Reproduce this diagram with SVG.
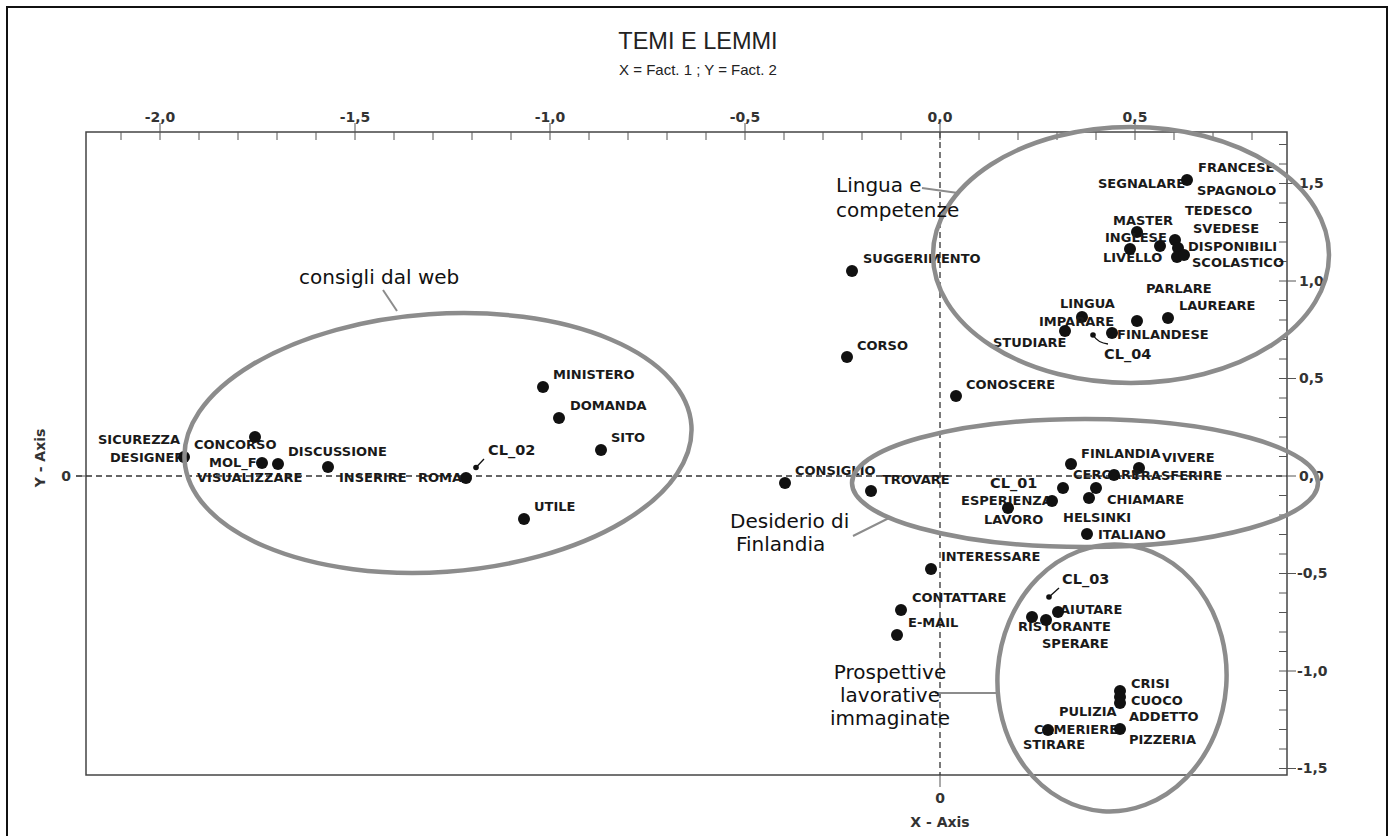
<svg xmlns="http://www.w3.org/2000/svg" width="1394" height="836" viewBox="0 0 1394 836">
<style>
.lbl{font-family:"DejaVu Sans",Verdana,sans-serif;font-weight:bold;font-size:13px;fill:#1a1a1a}
.cl{font-size:14.5px}
.ax{font-family:"DejaVu Sans",Verdana,sans-serif;font-weight:bold;font-size:14px;fill:#333}
.ann{font-family:"DejaVu Sans",Verdana,sans-serif;font-size:20px;fill:#111}
.ttl{font-family:"Liberation Sans",Arial,sans-serif;fill:#222}
.dot{fill:#111}
.sdot{fill:#111}
.ell{fill:none;stroke:#8c8c8c;stroke-width:4.5}
.lead{fill:none;stroke:#8c8c8c;stroke-width:2}
.cll{fill:none;stroke:#111;stroke-width:1.3}
.axis{fill:none;stroke:#444;stroke-width:1.5}
.tick{fill:none;stroke:#555;stroke-width:1}
.dash{fill:none;stroke:#333;stroke-width:1.3;stroke-dasharray:6 4}
</style>
<rect x="0" y="0" width="1394" height="836" fill="#ffffff"/>
<rect x="7" y="7" width="1380" height="840" fill="none" stroke="#111" stroke-width="2"/>

<g id="titles">
<text class="ttl" x="698" y="49" font-size="23.5" text-anchor="middle">TEMI E LEMMI</text>
<text class="ttl" x="698" y="75" font-size="15" text-anchor="middle">X = Fact. 1 ; Y = Fact. 2</text>
</g>

<g id="axes">
<rect class="axis" x="86" y="132" width="1201" height="643"/>
<path class="dash" d="M76 476H1287"/>
<path class="dash" d="M940 132V775"/>
<path class="tick" d="M76 476H86M940 775v12"/>
<path class="tick" d="M160 123v9M355 123v9M550 123v9M745 123v9M940 123v9M1135 123v9"/>
<path class="tick" d="M121 132v8M160 132v8M199 132v8M238 132v8M277 132v8M316 132v8M355 132v8M394 132v8M433 132v8M472 132v8M511 132v8M550 132v8M589 132v8M628 132v8M667 132v8M706 132v8M745 132v8M784 132v8M823 132v8M862 132v8M901 132v8M940 132v8M979 132v8M1018 132v8M1057 132v8M1096 132v8M1135 132v8M1174 132v8M1213 132v8M1252 132v8"/>
<path class="tick" d="M1279 144.5h8M1279 164h8M1279 183.5h8M1279 203h8M1279 222.5h8M1279 242h8M1279 261.5h8M1279 281h8M1279 300.5h8M1279 320h8M1279 339.5h8M1279 359h8M1279 378.5h8M1279 398h8M1279 417.5h8M1279 437h8M1279 456.5h8M1279 476h8M1279 495.5h8M1279 515h8M1279 534.5h8M1279 554h8M1279 573.5h8M1279 593h8M1279 612.5h8M1279 632h8M1279 651.5h8M1279 671h8M1279 690.5h8M1279 710h8M1279 729.5h8M1279 749h8M1279 768.5h8"/>
<path class="tick" d="M1287 183.5h9M1287 281h9M1287 378.5h9M1287 476h9M1287 573.5h9M1287 671h9M1287 768.5h9"/>
<g class="ax" text-anchor="middle">
<text x="160" y="122">-2,0</text>
<text x="355" y="122">-1,5</text>
<text x="550" y="122">-1,0</text>
<text x="745" y="122">-0,5</text>
<text x="940" y="122">0,0</text>
<text x="1135" y="122">0,5</text>
<text x="940" y="803">0</text>
<text x="940" y="827">X - Axis</text>
<text x="66" y="481">0</text>
<text transform="translate(45 458) rotate(-90)">Y - Axis</text>
</g>
<g class="ax">
<text x="1299" y="188">1,5</text>
<text x="1299" y="285.5">1,0</text>
<text x="1299" y="383">0,5</text>
<text x="1299" y="480.5">0,0</text>
<text x="1297" y="578">-0,5</text>
<text x="1297" y="675.5">-1,0</text>
<text x="1297" y="773">-1,5</text>
</g>
</g>

<g id="connectors">
<path class="lead" d="M383 290L397 311"/>
<path class="lead" d="M922 188L958 193"/>
<path class="lead" d="M853 536L889 518"/>
<path class="lead" d="M935 693H998"/>
<path class="cll" d="M484 459L476 467.5"/>
<path class="cll" d="M1093 335Q1098 343 1108 344"/>
<path class="cll" d="M1059 588L1049 597"/>
</g>

<g id="points">
<g id="p-sicurezza"><text class="lbl" x="98" y="444">SICUREZZA</text></g>
<g id="p-designer"><text class="lbl" x="110" y="461.5">DESIGNER</text><circle class="dot" cx="184" cy="457" r="6"/></g>
<g id="p-concorso"><text class="lbl" x="194" y="448.5">CONCORSO</text><circle class="dot" cx="255" cy="437" r="6"/></g>
<g id="p-molf"><text class="lbl" x="209" y="467">MOL_F</text><circle class="dot" cx="262" cy="463" r="6"/><circle class="dot" cx="278" cy="464" r="6"/></g>
<g id="p-discussione"><text class="lbl" x="288" y="455.5">DISCUSSIONE</text><circle class="dot" cx="328" cy="467" r="6"/></g>
<g id="p-visualizzare"><text class="lbl" x="197" y="481.5">VISUALIZZARE</text></g>
<g id="p-inserire"><text class="lbl" x="339" y="481.5">INSERIRE</text></g>
<g id="p-roma"><text class="lbl" x="418" y="481.5">ROMA</text><circle class="dot" cx="466" cy="478" r="6"/></g>
<g id="p-cl02"><text class="lbl cl" x="488" y="454.5">CL_02</text><circle class="sdot" cx="476" cy="467.5" r="2.8"/></g>
<g id="p-ministero"><text class="lbl" x="553" y="378.5">MINISTERO</text><circle class="dot" cx="543" cy="387" r="6"/></g>
<g id="p-domanda"><text class="lbl" x="570" y="410">DOMANDA</text><circle class="dot" cx="559" cy="418" r="6"/></g>
<g id="p-sito"><text class="lbl" x="611" y="442">SITO</text><circle class="dot" cx="601" cy="450" r="6"/></g>
<g id="p-utile"><text class="lbl" x="534" y="510.5">UTILE</text><circle class="dot" cx="524" cy="519" r="6"/></g>

<g id="p-suggerimento"><text class="lbl" x="863" y="262.5">SUGGERIMENTO</text><circle class="dot" cx="852" cy="271" r="6"/></g>
<g id="p-corso"><text class="lbl" x="857" y="350">CORSO</text><circle class="dot" cx="847" cy="357" r="6"/></g>
<g id="p-conoscere"><text class="lbl" x="966" y="388.5">CONOSCERE</text><circle class="dot" cx="956" cy="396" r="6"/></g>
<g id="p-consiglio"><text class="lbl" x="795" y="475">CONSIGLIO</text><circle class="dot" cx="785" cy="483" r="6"/></g>
<g id="p-trovare"><text class="lbl" x="882" y="484">TROVARE</text><circle class="dot" cx="871" cy="491" r="6"/></g>
<g id="p-interessare"><text class="lbl" x="941" y="561">INTERESSARE</text><circle class="dot" cx="931" cy="569" r="6"/></g>
<g id="p-contattare"><text class="lbl" x="912" y="602">CONTATTARE</text><circle class="dot" cx="901" cy="610" r="6"/></g>
<g id="p-email"><text class="lbl" x="908" y="627">E-MAIL</text><circle class="dot" cx="897" cy="635" r="6"/></g>

<g id="p-segnalare"><text class="lbl" x="1098" y="187.5">SEGNALARE</text><circle class="dot" cx="1187" cy="180" r="6"/></g>
<g id="p-francese"><text class="lbl" x="1198" y="171.5">FRANCESE</text></g>
<g id="p-spagnolo"><text class="lbl" x="1197" y="194.5">SPAGNOLO</text></g>
<g id="p-tedesco"><text class="lbl" x="1185" y="215">TEDESCO</text></g>
<g id="p-svedese"><text class="lbl" x="1193" y="232.5">SVEDESE</text></g>
<g id="p-disponibili"><text class="lbl" x="1188" y="250.5">DISPONIBILI</text></g>
<g id="p-scolastico"><text class="lbl" x="1192" y="267">SCOLASTICO</text></g>
<g id="p-master"><text class="lbl" x="1113" y="224.5">MASTER</text><circle class="dot" cx="1137" cy="232" r="6"/></g>
<g id="p-inglese"><text class="lbl" x="1105" y="241.5">INGLESE</text><circle class="dot" cx="1160" cy="246" r="6"/></g>
<g id="p-livello"><text class="lbl" x="1103" y="261.5">LIVELLO</text><circle class="dot" cx="1130" cy="249" r="6"/></g>
<g id="p-cluster-lang"><circle class="dot" cx="1175" cy="240" r="6"/><circle class="dot" cx="1178" cy="248" r="6"/><circle class="dot" cx="1177" cy="257" r="6"/><circle class="dot" cx="1184" cy="255" r="6"/></g>
<g id="p-parlare"><text class="lbl" x="1146" y="292.5">PARLARE</text><circle class="dot" cx="1137" cy="321" r="6"/></g>
<g id="p-laureare"><text class="lbl" x="1179" y="310">LAUREARE</text><circle class="dot" cx="1168" cy="318" r="6"/></g>
<g id="p-lingua"><text class="lbl" x="1060" y="307.5">LINGUA</text><circle class="dot" cx="1082" cy="317" r="6"/></g>
<g id="p-imparare"><text class="lbl" x="1039" y="325.5">IMPARARE</text></g>
<g id="p-studiare"><text class="lbl" x="993" y="346.5">STUDIARE</text><circle class="dot" cx="1065" cy="331" r="6"/></g>
<g id="p-finlandese"><text class="lbl" x="1117" y="338.5">FINLANDESE</text><circle class="dot" cx="1112" cy="333" r="6"/></g>
<g id="p-cl04"><text class="lbl cl" x="1104" y="358.5">CL_04</text><circle class="sdot" cx="1093" cy="335" r="2.8"/></g>

<g id="p-finlandia"><text class="lbl" x="1081" y="458">FINLANDIA</text><circle class="dot" cx="1071" cy="464" r="6"/></g>
<g id="p-vivere"><text class="lbl" x="1162" y="462">VIVERE</text><circle class="dot" cx="1139" cy="468" r="6"/></g>
<g id="p-cercare"><text class="lbl" x="1073" y="478.5">CERCARE</text><circle class="dot" cx="1114" cy="475" r="6"/></g>
<g id="p-trasferire"><text class="lbl" x="1132" y="479.5">TRASFERIRE</text></g>
<g id="p-cl01"><text class="lbl cl" x="990" y="488">CL_01</text><circle class="dot" cx="1063" cy="488" r="6"/><circle class="dot" cx="1096" cy="488" r="6"/></g>
<g id="p-esperienza"><text class="lbl" x="961" y="505">ESPERIENZA</text><circle class="dot" cx="1052" cy="501" r="6"/></g>
<g id="p-lavoro"><text class="lbl" x="984" y="524">LAVORO</text><circle class="dot" cx="1008" cy="508" r="6"/></g>
<g id="p-chiamare"><text class="lbl" x="1107" y="504">CHIAMARE</text><circle class="dot" cx="1089" cy="498" r="6"/></g>
<g id="p-helsinki"><text class="lbl" x="1063" y="522">HELSINKI</text></g>
<g id="p-italiano"><text class="lbl" x="1098" y="539">ITALIANO</text><circle class="dot" cx="1087" cy="534" r="6"/></g>

<g id="p-cl03"><text class="lbl cl" x="1062" y="583.5">CL_03</text><circle class="sdot" cx="1049" cy="597" r="2.8"/></g>
<g id="p-aiutare"><text class="lbl" x="1060" y="613.5">AIUTARE</text><circle class="dot" cx="1058" cy="612" r="6"/></g>
<g id="p-ristorante"><text class="lbl" x="1018" y="631">RISTORANTE</text><circle class="dot" cx="1032" cy="617" r="6"/><circle class="dot" cx="1046" cy="620" r="6"/></g>
<g id="p-sperare"><text class="lbl" x="1042" y="648">SPERARE</text></g>
<g id="p-crisi"><text class="lbl" x="1131" y="688">CRISI</text><circle class="dot" cx="1120" cy="691" r="6"/></g>
<g id="p-cuoco"><text class="lbl" x="1131" y="705">CUOCO</text><circle class="dot" cx="1120" cy="697" r="6"/></g>
<g id="p-addetto"><text class="lbl" x="1129" y="721">ADDETTO</text><circle class="dot" cx="1120" cy="703" r="6"/></g>
<g id="p-pulizia"><text class="lbl" x="1059" y="716">PULIZIA</text></g>
<g id="p-cameriere"><text class="lbl" x="1034" y="733.5">CAMERIERE</text><circle class="dot" cx="1048" cy="730" r="6"/></g>
<g id="p-stirare"><text class="lbl" x="1023" y="748.5">STIRARE</text></g>
<g id="p-pizzeria"><text class="lbl" x="1129" y="744">PIZZERIA</text><circle class="dot" cx="1120" cy="729" r="6"/></g>
</g>

<g id="cluster-web">
<ellipse class="ell" cx="438" cy="443" rx="254" ry="129" transform="rotate(-4 438 443)"/>
<text class="ann" x="299" y="284" font-size="21.5">consigli dal web</text>
</g>
<g id="cluster-lingua">
<ellipse class="ell" cx="1131" cy="255" rx="198" ry="128"/>
<text class="ann" x="836" y="192">Lingua e</text>
<text class="ann" x="836" y="217">competenze</text>
</g>
<g id="cluster-desiderio">
<ellipse class="ell" cx="1085" cy="483" rx="233" ry="64"/>
<text class="ann" x="730" y="528" font-size="22">Desiderio di</text>
<text class="ann" x="736" y="551" font-size="22">Finlandia</text>
</g>
<g id="cluster-prospettive">
<ellipse class="ell" cx="1112" cy="678" rx="114.5" ry="133.5" transform="rotate(4 1112 678)"/>
<text class="ann" x="890" y="679" text-anchor="middle">Prospettive</text>
<text class="ann" x="890" y="702" text-anchor="middle">lavorative</text>
<text class="ann" x="890" y="725" text-anchor="middle">immaginate</text>
</g>
</svg>
